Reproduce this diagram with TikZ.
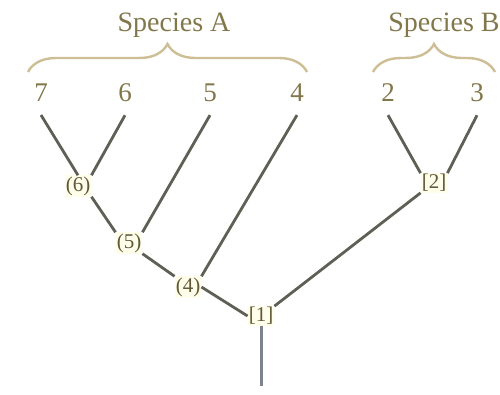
\documentclass[tikz,border=0pt]{standalone}
\usepackage{fontspec}
\setmainfont{Liberation Serif}
\usetikzlibrary{decorations.pathreplacing}
\definecolor{txt}{RGB}{130,118,75}
\definecolor{brc}{RGB}{205,190,150}
\definecolor{ln}{RGB}{95,95,85}
\definecolor{stem}{RGB}{125,130,140}
\tikzset{
  head/.style={text=txt,font=\fontsize{28}{30}\selectfont,inner sep=0pt},
  leaf/.style={text=txt,font=\fontsize{27}{29}\selectfont,inner sep=1pt},
  inner/.style={text=txt!75!black,font=\fontsize{21}{23}\selectfont,inner sep=1pt,fill=yellow!8},
  branch/.style={draw=ln,line width=2.8pt},
  bracesty/.style={draw=brc,line width=2.4pt,decorate,decoration={brace,amplitude=28pt}}
}
\begin{document}
\begin{tikzpicture}[x=1pt,y=-1pt]
\useasboundingbox (0,0) rectangle (500,395);
\node[head] (sa) at (174,25) {Species A};
\node[head] (sb) at (444,25) {Species B};
\draw[bracesty] (28,72) -- (307,72);
\draw[bracesty] (373,72) -- (495,72);
\node[leaf] (l7) at (41,93) {7};
\node[leaf] (l6) at (125,93) {6};
\node[leaf] (l5) at (210,93) {5};
\node[leaf] (l4) at (297,93) {4};
\node[leaf] (l2) at (388,93) {2};
\node[leaf] (l3) at (477,93) {3};
\node[inner] (n6) at (78,186) {(6)};
\node[inner] (n5) at (129,243) {(5)};
\node[inner] (n4) at (188,287) {(4)};
\node[inner] (n1) at (261,316) {[1]};
\node[inner] (n2) at (434,183) {[2]};
\coordinate (root) at (261,386);
\draw[branch] ([yshift=-12pt]l7.south) -- (n6.north);
\draw[branch] ([yshift=-12pt]l6.south) -- (n6.north east);
\draw[branch] (n6.south east) -- (n5.north west);
\draw[branch] ([yshift=-12pt]l5.south) -- (n5.north east);
\draw[branch] (n5.south east) -- (n4.north west);
\draw[branch] ([yshift=-12pt]l4.south) -- (n4.north east);
\draw[branch] (n4.east) -- (n1.west);
\draw[branch] (n2.south west) -- (n1.north east);
\draw[branch] ([yshift=-12pt]l2.south) -- (n2.north west);
\draw[branch] ([yshift=-12pt]l3.south) -- (n2.north east);
\draw[draw=stem,line width=3pt] (n1.south) -- (root);
\end{tikzpicture}
\end{document}
